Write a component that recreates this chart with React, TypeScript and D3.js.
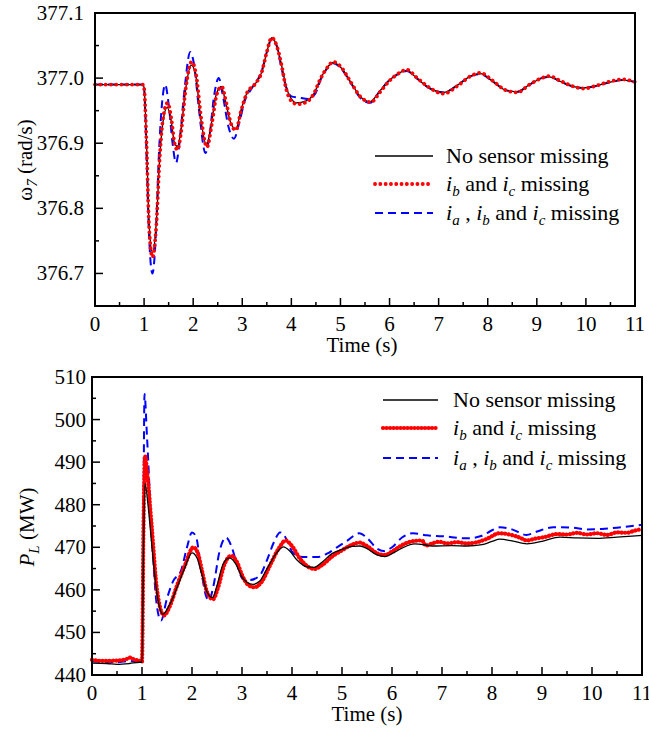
import React from "react";
import * as d3 from "d3";

type P = [number, number];

// ---------- Top chart (rotor speed ω7) ----------
const topBlack: P[] = [
  [0, 376.99], [0.5, 376.99], [0.98, 376.99], [1.0, 376.985], [1.05, 376.9], [1.1, 376.78], [1.17, 376.732],
  [1.25, 376.78], [1.32, 376.88], [1.4, 376.94], [1.47, 376.955], [1.55, 376.935], [1.62, 376.9], [1.68, 376.895],
  [1.75, 376.92], [1.85, 376.985], [1.96, 377.02], [2.05, 377.005], [2.15, 376.94], [2.27, 376.897], [2.37, 376.93],
  [2.47, 376.975], [2.57, 376.987], [2.67, 376.96], [2.77, 376.93], [2.87, 376.922], [2.97, 376.95], [3.1, 376.978],
  [3.25, 376.99], [3.4, 377.01], [3.5, 377.04], [3.6, 377.062], [3.7, 377.05], [3.8, 377.02], [3.9, 376.985],
  [4.0, 376.968], [4.1, 376.962], [4.3, 376.965], [4.45, 376.975], [4.6, 377.0], [4.75, 377.018], [4.85, 377.024],
  [5.0, 377.017], [5.2, 376.995], [5.4, 376.972], [5.6, 376.964], [5.8, 376.98], [6.0, 376.997], [6.2, 377.008],
  [6.35, 377.012], [6.55, 377.0], [6.8, 376.985], [7.1, 376.978], [7.4, 376.99], [7.65, 377.003], [7.85, 377.007],
  [8.1, 376.995], [8.35, 376.982], [8.6, 376.979], [8.85, 376.99], [9.1, 377.0], [9.25, 377.002], [9.5, 376.994],
  [9.75, 376.987], [9.95, 376.985], [10.2, 376.988], [10.5, 376.994], [10.75, 376.997], [11.0, 376.994],
];

const topRed: P[] = [
  [0, 376.99], [0.5, 376.99], [0.98, 376.99], [1.0, 376.985], [1.05, 376.9], [1.1, 376.775], [1.17, 376.725],
  [1.25, 376.775], [1.32, 376.88], [1.4, 376.945], [1.48, 376.962], [1.56, 376.935], [1.62, 376.9], [1.68, 376.89],
  [1.75, 376.915], [1.85, 376.985], [1.97, 377.025], [2.06, 377.005], [2.16, 376.94], [2.28, 376.894], [2.38, 376.93],
  [2.48, 376.975], [2.58, 376.987], [2.68, 376.96], [2.78, 376.928], [2.87, 376.92], [2.97, 376.948], [3.1, 376.978],
  [3.25, 376.99], [3.4, 377.01], [3.5, 377.04], [3.6, 377.062], [3.7, 377.05], [3.8, 377.02], [3.9, 376.982],
  [4.0, 376.965], [4.12, 376.96], [4.3, 376.963], [4.45, 376.975], [4.6, 377.0], [4.75, 377.018], [4.85, 377.025],
  [5.0, 377.018], [5.2, 376.995], [5.4, 376.972], [5.62, 376.963], [5.8, 376.978], [6.0, 376.996], [6.2, 377.008],
  [6.35, 377.013], [6.55, 377.001], [6.8, 376.986], [7.1, 376.976], [7.4, 376.989], [7.65, 377.003], [7.85, 377.008],
  [8.1, 376.996], [8.35, 376.982], [8.6, 376.978], [8.85, 376.99], [9.1, 377.0], [9.25, 377.003], [9.5, 376.995],
  [9.75, 376.987], [9.95, 376.984], [10.2, 376.988], [10.5, 376.995], [10.75, 376.998], [11.0, 376.994],
];

const topBlue: P[] = [
  [0, 376.99], [0.5, 376.99], [0.98, 376.99], [1.0, 376.985], [1.05, 376.88], [1.1, 376.76], [1.17, 376.7],
  [1.24, 376.76], [1.3, 376.88], [1.37, 376.965], [1.43, 376.99], [1.5, 376.96], [1.58, 376.9], [1.65, 376.87],
  [1.72, 376.9], [1.82, 376.98], [1.94, 377.04], [2.02, 377.02], [2.12, 376.95], [2.25, 376.885], [2.33, 376.91],
  [2.43, 376.975], [2.52, 377.0], [2.6, 376.975], [2.72, 376.925], [2.83, 376.907], [2.95, 376.935], [3.05, 376.965],
  [3.2, 376.985], [3.4, 377.012], [3.5, 377.04], [3.6, 377.06], [3.7, 377.05], [3.8, 377.015], [3.9, 376.985],
  [4.0, 376.972], [4.15, 376.97], [4.35, 376.968], [4.5, 376.978], [4.6, 376.998], [4.75, 377.017], [4.85, 377.023],
  [5.0, 377.016], [5.2, 376.994], [5.4, 376.97], [5.6, 376.962], [5.8, 376.98], [6.0, 376.997], [6.2, 377.007],
  [6.35, 377.011], [6.55, 377.0], [6.8, 376.985], [7.1, 376.978], [7.4, 376.99], [7.65, 377.003], [7.85, 377.006],
  [8.1, 376.995], [8.35, 376.982], [8.6, 376.979], [8.85, 376.99], [9.1, 377.0], [9.25, 377.002], [9.5, 376.994],
  [9.75, 376.987], [9.95, 376.985], [10.2, 376.988], [10.5, 376.994], [10.75, 376.997], [11.0, 376.994],
];

// ---------- Bottom chart (P_L) ----------
const botBlack: P[] = [
  [0, 442.8], [0.3, 442.7], [0.5, 442.5], [0.75, 442.7], [0.95, 443.0], [1.0, 443.0], [1.03, 470], [1.06, 485],
  [1.12, 480], [1.2, 470], [1.3, 459], [1.42, 454.3], [1.55, 456.5], [1.7, 460.5], [1.85, 465], [2.0, 468.7],
  [2.1, 467.5], [2.2, 463.5], [2.3, 459.5], [2.41, 458.2], [2.5, 461], [2.62, 466], [2.75, 467.5], [2.88, 466],
  [3.0, 463], [3.1, 461.8], [3.22, 461.3], [3.35, 462], [3.5, 465], [3.7, 468.8], [3.83, 470.1], [3.95, 469.2],
  [4.1, 467], [4.3, 465.4], [4.45, 465.3], [4.6, 466.5], [4.8, 468.5], [5.0, 469.5], [5.2, 470.2], [5.36, 470.3],
  [5.5, 469.7], [5.7, 468.2], [5.86, 467.8], [6.0, 468.5], [6.2, 469.8], [6.45, 470.8], [6.65, 470.6], [6.8, 470.3],
  [7.2, 470.4], [7.5, 470.3], [7.8, 470.6], [8.0, 471.4], [8.16, 471.9], [8.4, 471.5], [8.7, 470.8], [9.0, 471.4],
  [9.36, 472.4], [9.7, 472.2], [10.1, 472.1], [10.5, 472.4], [11.0, 472.8],
];

const botRed: P[] = [
  [0, 443.6], [0.2, 443.3], [0.5, 443.4], [0.7, 443.8], [0.75, 444.1], [0.85, 443.6], [0.98, 443.2], [1.0, 443.0],
  [1.03, 475], [1.06, 491.5], [1.1, 488], [1.2, 474], [1.3, 460], [1.44, 454], [1.55, 456], [1.7, 461],
  [1.85, 465.5], [2.03, 470], [2.12, 468.5], [2.2, 464.5], [2.3, 459.5], [2.42, 457.8], [2.52, 460.5], [2.65, 466],
  [2.78, 468], [2.9, 466.5], [3.0, 463.5], [3.12, 461.2], [3.25, 460.6], [3.4, 462], [3.55, 465.5], [3.75, 470],
  [3.87, 471.6], [4.0, 470.3], [4.15, 467.5], [4.3, 465.6], [4.45, 464.9], [4.6, 465.8], [4.8, 467.8], [5.0, 469.3],
  [5.2, 470.6], [5.35, 471.1], [5.5, 470.3], [5.7, 468.6], [5.86, 468.2], [6.0, 469], [6.2, 470.5], [6.4, 471.4],
  [6.6, 471.6], [6.68, 470.4], [6.8, 470.9], [6.95, 471.3], [7.1, 470.9], [7.3, 471.2], [7.5, 470.9], [7.7, 471.2],
  [7.9, 472], [8.15, 473.3], [8.35, 473.0], [8.55, 472.3], [8.7, 471.6], [8.85, 472.0], [9.05, 472.4], [9.3, 473.1],
  [9.5, 473.0], [9.7, 473.4], [9.9, 473.0], [10.1, 473.3], [10.3, 472.9], [10.5, 473.5], [10.7, 473.4], [10.85, 473.9],
  [11.0, 474.3],
];

const botBlue: P[] = [
  [0, 443.2], [0.5, 443.0], [0.75, 443.3], [0.98, 443.0], [1.0, 443.0], [1.03, 480], [1.05, 506], [1.1, 496],
  [1.2, 472], [1.3, 456], [1.38, 452.8], [1.5, 458], [1.62, 462], [1.78, 464.5], [1.9, 470], [2.0, 473.5],
  [2.08, 472.5], [2.18, 465], [2.27, 459], [2.34, 457.5], [2.43, 461], [2.55, 469], [2.68, 472.3], [2.78, 470.5],
  [2.9, 466], [3.02, 462.5], [3.15, 462.3], [3.35, 463.3], [3.5, 467], [3.65, 471.5], [3.76, 473.5], [3.87, 472.3],
  [4.0, 469], [4.15, 467.8], [4.5, 467.7], [4.7, 468.5], [4.9, 470], [5.1, 471.5], [5.35, 473.3], [5.5, 472.2],
  [5.7, 469.7], [5.83, 469.1], [6.0, 470], [6.2, 472.3], [6.42, 473.3], [6.7, 472.8], [7.0, 472.6], [7.5, 472.1],
  [7.8, 472.7], [8.0, 474], [8.16, 474.7], [8.4, 474.2], [8.69, 472.9], [8.9, 473.7], [9.23, 474.7], [9.6, 474.6],
  [9.9, 474.2], [10.2, 474.3], [10.5, 474.6], [10.8, 475.0], [11.0, 475.3],
];

const xTicks = [0, 1, 2, 3, 4, 5, 6, 7, 8, 9, 10, 11];
const topYTicks = [376.7, 376.8, 376.9, 377.0, 377.1];
const botYTicks = [440, 450, 460, 470, 480, 490, 500, 510];

const FONT = "Liberation Serif";
const TS = { fontFamily: FONT };

const styles = {
  black: { stroke: "#000", strokeWidth: 1.3 },
  redTop: { stroke: "#ff0000", strokeWidth: 3.8, strokeDasharray: "0.1 5.2", strokeLinecap: "round" as const },
  redBot: { stroke: "#ff0000", strokeWidth: 4.2, strokeDasharray: "0.1 3.4", strokeLinecap: "round" as const },
  blue: { stroke: "#0000ff", strokeWidth: 2, strokeDasharray: "8 5" },
};

function Legend({ x0, x1, tx, ys, red }: { x0: number; x1: number; tx: number; ys: number[]; red: any }) {
  const fs = 22;
  const sub = 15;
  return (
    <g style={{ ...TS, fontSize: fs }}>
      <line x1={x0} x2={x1} y1={ys[0]} y2={ys[0]} {...styles.black} />
      <text x={tx} y={ys[0] + 7} style={TS}>No sensor missing</text>
      <line x1={x0} x2={x1} y1={ys[1]} y2={ys[1]} {...red} />
      <text x={tx} y={ys[1] + 7} style={TS}>
        <tspan fontStyle="italic">i</tspan>
        <tspan fontStyle="italic" fontSize={sub} dy={5}>b</tspan>
        <tspan dy={-5}> and </tspan>
        <tspan fontStyle="italic">i</tspan>
        <tspan fontStyle="italic" fontSize={sub} dy={5}>c</tspan>
        <tspan dy={-5}> missing</tspan>
      </text>
      <line x1={x0} x2={x1} y1={ys[2]} y2={ys[2]} {...styles.blue} />
      <text x={tx} y={ys[2] + 7} style={TS}>
        <tspan fontStyle="italic">i</tspan>
        <tspan fontStyle="italic" fontSize={sub} dy={5}>a</tspan>
        <tspan dy={-5}> , </tspan>
        <tspan fontStyle="italic">i</tspan>
        <tspan fontStyle="italic" fontSize={sub} dy={5}>b</tspan>
        <tspan dy={-5}> and </tspan>
        <tspan fontStyle="italic">i</tspan>
        <tspan fontStyle="italic" fontSize={sub} dy={5}>c</tspan>
        <tspan dy={-5}> missing</tspan>
      </text>
    </g>
  );
}

function Axes({ x, y, yTicks, yMinor, fmt, labelGap }: any) {
  const [x0, x1] = x.range();
  const [y0, y1] = y.range();
  const minorX = d3.range(0.5, 11, 1);
  return (
    <g style={{ ...TS, fontSize: 21 }}>
      {xTicks.map((t) => (
        <g key={"xt" + t}>
          <line x1={x(t)} x2={x(t)} y1={y0} y2={y0 - 8} stroke="#000" strokeWidth={1.5} />
          <text x={x(t)} y={y0 + 25} textAnchor="middle" style={TS}>{t}</text>
        </g>
      ))}
      {minorX.map((t) => (
        <line key={"xm" + t} x1={x(t)} x2={x(t)} y1={y0} y2={y0 - 4} stroke="#000" strokeWidth={1.5} />
      ))}
      {yTicks.map((v: number) => (
        <g key={"yt" + v}>
          <line x1={x0} x2={x0 + 8} y1={y(v)} y2={y(v)} stroke="#000" strokeWidth={1.5} />
          <text x={x0 - labelGap} y={y(v) + 7} textAnchor="end" style={TS}>{fmt(v)}</text>
        </g>
      ))}
      {yMinor.map((v: number) => (
        <line key={"ym" + v} x1={x0} x2={x0 + 4} y1={y(v)} y2={y(v)} stroke="#000" strokeWidth={1.5} />
      ))}
      <rect x={x0} y={y1} width={x1 - x0} height={y0 - y1} fill="none" stroke="#000" strokeWidth={2} />
    </g>
  );
}

export default function App() {
  const topX = d3.scaleLinear().domain([0, 11]).range([95, 635]);
  const topY = d3.scaleLinear().domain([376.65, 377.1]).range([306, 13]);
  const botX = d3.scaleLinear().domain([0, 11]).range([92, 642]);
  const botY = d3.scaleLinear().domain([440, 510]).range([675, 377]);

  const topLine = d3.line<P>().x((d) => topX(d[0])).y((d) => topY(d[1])).curve(d3.curveMonotoneX);
  const botLine = d3.line<P>().x((d) => botX(d[0])).y((d) => botY(d[1])).curve(d3.curveMonotoneX);

  const topMinor = [376.75, 376.85, 376.95, 377.05];
  const botMinor = [445, 455, 465, 475, 485, 495, 505];

  return (
    <svg width={649} height={731} style={{ position: "absolute", left: 0, top: 0, background: "#fff", fontFamily: FONT }}>
      <rect width={649} height={731} fill="#fff" />
      {/* Top chart */}
      <g fill="none">
        <path d={topLine(topBlue) || ""} {...styles.blue} />
        <path d={topLine(topBlack) || ""} {...styles.black} />
        <path d={topLine(topRed) || ""} {...styles.redTop} />
      </g>
      <Axes x={topX} y={topY} yTicks={topYTicks} yMinor={topMinor} fmt={(v: number) => v.toFixed(1)} labelGap={11} />
      <text x={362} y={352} textAnchor="middle" style={{ ...TS, fontSize: 21 }}>Time (s)</text>
      <text transform="translate(32,160) rotate(-90)" textAnchor="middle" style={{ ...TS, fontSize: 21 }}>
        <tspan>ω</tspan>
        <tspan fontStyle="italic" fontSize={15} dy={5}>7</tspan>
        <tspan dy={-5}> (rad/s)</tspan>
      </text>
      <Legend x0={375} x1={433} tx={446} ys={[156, 184, 213]} red={styles.redTop} />

      {/* Bottom chart */}
      <g fill="none">
        <path d={botLine(botBlue) || ""} {...styles.blue} />
        <path d={botLine(botRed) || ""} {...styles.redBot} />
        <path d={botLine(botBlack) || ""} {...styles.black} />
      </g>
      <Axes x={botX} y={botY} yTicks={botYTicks} yMinor={botMinor} fmt={(v: number) => String(v)} labelGap={6} />
      <text x={367} y={721} textAnchor="middle" style={{ ...TS, fontSize: 21 }}>Time (s)</text>
      <text transform="translate(34,527) rotate(-90)" textAnchor="middle" style={{ ...TS, fontSize: 21 }}>
        <tspan fontStyle="italic">P</tspan>
        <tspan fontStyle="italic" fontSize={15} dy={5}>L</tspan>
        <tspan dy={-5}> (MW)</tspan>
      </text>
      <Legend x0={383} x1={438} tx={453} ys={[400, 428, 458]} red={styles.redBot} />
    </svg>
  );
}
